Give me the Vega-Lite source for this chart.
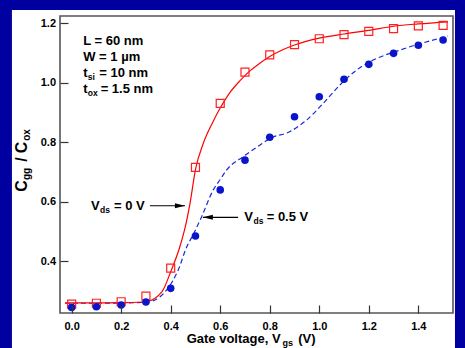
{
 "$schema": "https://vega.github.io/schema/vega-lite/v6.json",
 "width": 393, "height": 297,
 "autosize": {"type": "none"},
 "padding": {"left": 60, "top": 16, "right": 12, "bottom": 35},
 "background": "#0000A0",
 "config": {"view": {"stroke": null}, "font": "Liberation Sans"},
 "datasets": {
  "bg": [{"x": -0.2411, "x2": 1.548, "y": 0.10, "y2": 1.2447}],
  "frame": [{"x": -0.047, "x2": 1.54, "y": 0.2262, "y2": 1.2245}],
  "pts": [
   {"x": 0.0, "y": 0.256, "s": "0"}, {"x": 0.1, "y": 0.259, "s": "0"}, {"x": 0.2, "y": 0.264, "s": "0"}, {"x": 0.3, "y": 0.283, "s": "0"},
   {"x": 0.4, "y": 0.377, "s": "0"}, {"x": 0.5, "y": 0.716, "s": "0"}, {"x": 0.6, "y": 0.931, "s": "0"}, {"x": 0.7, "y": 1.036, "s": "0"},
   {"x": 0.8, "y": 1.094, "s": "0"}, {"x": 0.9, "y": 1.128, "s": "0"}, {"x": 1.0, "y": 1.148, "s": "0"}, {"x": 1.1, "y": 1.162, "s": "0"},
   {"x": 1.2, "y": 1.173, "s": "0"}, {"x": 1.3, "y": 1.182, "s": "0"}, {"x": 1.4, "y": 1.191, "s": "0"}, {"x": 1.5, "y": 1.193, "s": "0"},
   {"x": 0.0, "y": 0.245, "s": "0.5"}, {"x": 0.1, "y": 0.247, "s": "0.5"}, {"x": 0.2, "y": 0.253, "s": "0.5"}, {"x": 0.3, "y": 0.263, "s": "0.5"},
   {"x": 0.4, "y": 0.309, "s": "0.5"}, {"x": 0.5, "y": 0.485, "s": "0.5"}, {"x": 0.6, "y": 0.640, "s": "0.5"}, {"x": 0.7, "y": 0.740, "s": "0.5"},
   {"x": 0.8, "y": 0.817, "s": "0.5"}, {"x": 0.9, "y": 0.886, "s": "0.5"}, {"x": 1.0, "y": 0.953, "s": "0.5"}, {"x": 1.1, "y": 1.012, "s": "0.5"},
   {"x": 1.2, "y": 1.062, "s": "0.5"}, {"x": 1.3, "y": 1.099, "s": "0.5"}, {"x": 1.4, "y": 1.126, "s": "0.5"}, {"x": 1.5, "y": 1.144, "s": "0.5"}
  ],
  "sim": [
   {"x": -0.027, "y": 0.260, "s": "0"}, {"x": 0.1, "y": 0.260, "s": "0"}, {"x": 0.2, "y": 0.261, "s": "0"}, {"x": 0.3, "y": 0.264, "s": "0"},
   {"x": 0.365, "y": 0.298, "s": "0"}, {"x": 0.4, "y": 0.365, "s": "0"}, {"x": 0.437, "y": 0.449, "s": "0"}, {"x": 0.46, "y": 0.52, "s": "0"},
   {"x": 0.478, "y": 0.595, "s": "0"}, {"x": 0.501, "y": 0.712, "s": "0"}, {"x": 0.531, "y": 0.795, "s": "0"}, {"x": 0.569, "y": 0.866, "s": "0"},
   {"x": 0.6, "y": 0.915, "s": "0"}, {"x": 0.639, "y": 0.967, "s": "0"}, {"x": 0.68, "y": 1.007, "s": "0"}, {"x": 0.72, "y": 1.04, "s": "0"},
   {"x": 0.76, "y": 1.066, "s": "0"}, {"x": 0.8, "y": 1.088, "s": "0"}, {"x": 0.85, "y": 1.11, "s": "0"}, {"x": 0.9, "y": 1.127, "s": "0"},
   {"x": 0.95, "y": 1.14, "s": "0"}, {"x": 1.0, "y": 1.15, "s": "0"}, {"x": 1.1, "y": 1.164, "s": "0"}, {"x": 1.2, "y": 1.176, "s": "0"},
   {"x": 1.3, "y": 1.19, "s": "0"}, {"x": 1.4, "y": 1.198, "s": "0"}, {"x": 1.52, "y": 1.205, "s": "0"},
   {"x": -0.027, "y": 0.259, "s": "0.5"}, {"x": 0.1, "y": 0.259, "s": "0.5"}, {"x": 0.2, "y": 0.26, "s": "0.5"}, {"x": 0.3, "y": 0.262, "s": "0.5"},
   {"x": 0.357, "y": 0.281, "s": "0.5"}, {"x": 0.41, "y": 0.337, "s": "0.5"}, {"x": 0.43, "y": 0.37, "s": "0.5"}, {"x": 0.465, "y": 0.449, "s": "0.5"},
   {"x": 0.491, "y": 0.49, "s": "0.5"}, {"x": 0.525, "y": 0.55, "s": "0.5"}, {"x": 0.572, "y": 0.64, "s": "0.5"}, {"x": 0.6, "y": 0.675, "s": "0.5"},
   {"x": 0.626, "y": 0.707, "s": "0.5"}, {"x": 0.693, "y": 0.752, "s": "0.5"}, {"x": 0.761, "y": 0.791, "s": "0.5"}, {"x": 0.801, "y": 0.813, "s": "0.5"},
   {"x": 0.882, "y": 0.836, "s": "0.5"}, {"x": 0.949, "y": 0.875, "s": "0.5"}, {"x": 1.016, "y": 0.931, "s": "0.5"}, {"x": 1.084, "y": 0.993, "s": "0.5"},
   {"x": 1.151, "y": 1.043, "s": "0.5"}, {"x": 1.205, "y": 1.071, "s": "0.5"}, {"x": 1.326, "y": 1.110, "s": "0.5"}, {"x": 1.52, "y": 1.157, "s": "0.5"}
  ],
  "arrows": [
   {"x": 0.4576, "x2": 0.316, "y": 0.5867, "dir": "right"},
   {"x": 0.530, "x2": 0.672, "y": 0.5477, "dir": "left"}
  ],
  "txt": [
   {"x": 0.0468, "y": 1.1254, "t": "L = 60 nm", "p": "in"},
   {"x": 0.0468, "y": 1.0732, "t": "W = 1 µm", "p": "in"},
   {"x": 0.0468, "y": 1.0194, "t": "t", "p": "in"},
   {"x": 0.1115, "y": 1.0194, "t": "= 10 nm", "p": "in"},
   {"x": 0.0468, "y": 0.9646, "t": "t", "p": "in"},
   {"x": 0.1171, "y": 0.9646, "t": "= 1.5 nm", "p": "in"},
   {"x": 0.0779, "y": 0.5722, "t": "V", "p": "in"},
   {"x": 0.1708, "y": 0.5722, "t": "= 0 V", "p": "in"},
   {"x": 0.6971, "y": 0.5362, "t": "V", "p": "in"},
   {"x": 0.7876, "y": 0.5362, "t": "= 0.5 V", "p": "in"},
   {"x": 0.0650, "y": 1.0194, "t": "si", "p": "insub"},
   {"x": 0.0650, "y": 0.9646, "t": "ox", "p": "insub"},
   {"x": 0.1150, "y": 0.5722, "t": "ds", "p": "insub"},
   {"x": 0.7345, "y": 0.5362, "t": "ds", "p": "insub"},
   {"x": 0.4645, "y": 0.1260, "t": "Gate voltage, V", "p": "xt"},
   {"x": 0.9150, "y": 0.1260, "t": "(V)", "p": "xt"},
   {"x": 0.8510, "y": 0.1260, "t": "gs", "p": "xtsub"},
   {"x": -0.1785, "y": 0.6338, "t": "C", "p": "yt"},
   {"x": -0.1785, "y": 0.7346, "t": "/", "p": "yt"},
   {"x": -0.1785, "y": 0.7629, "t": "C", "p": "yt"},
   {"x": -0.1785, "y": 0.6730, "t": "gg", "p": "ytsub"},
   {"x": -0.1785, "y": 0.8050, "t": "ox", "p": "ytsub"}
  ]
 },
 "encoding": {
  "x": {"field": "x", "type": "quantitative", "scale": {"domain": [-0.047, 1.54], "nice": false, "zero": false},
   "axis": {"values": [0, 0.2, 0.4, 0.6, 0.8, 1.0, 1.2, 1.4], "format": ".1f", "title": null, "domain": false, "grid": false,
    "tickSize": -8, "tickColor": "#333333", "tickWidth": 1.2, "labelPadding": 15, "labelFontWeight": "bold", "labelFontSize": 11,
    "labelColor": "#000000", "labelFlush": false, "zindex": 1}},
  "y": {"field": "y", "type": "quantitative", "scale": {"domain": [0.2262, 1.2245], "nice": false, "zero": false},
   "axis": {"values": [0.4, 0.6, 0.8, 1.0, 1.2], "format": ".1f", "title": null, "domain": false, "grid": false,
    "tickSize": -8, "tickColor": "#333333", "tickWidth": 1.2, "labelPadding": 12.5, "labelFontWeight": "bold", "labelFontSize": 11,
    "labelColor": "#000000", "zindex": 1}}
 },
 "layer": [
  {"data": {"name": "bg"}, "mark": {"type": "rect", "fill": "#ffffff"},
   "encoding": {"x2": {"field": "x2"}, "y2": {"field": "y2"}}},
  {"data": {"name": "frame"}, "mark": {"type": "rect", "fill": null, "stroke": "#555555", "strokeWidth": 1.6},
   "encoding": {"x2": {"field": "x2"}, "y2": {"field": "y2"}}},
  {"data": {"name": "sim"}, "transform": [{"filter": "datum.s === '0.5'"}],
   "mark": {"type": "line", "color": "#1a2ad6", "strokeWidth": 1.2, "strokeDash": [5, 3], "interpolate": "monotone"}},
  {"data": {"name": "sim"}, "transform": [{"filter": "datum.s === '0'"}],
   "mark": {"type": "line", "color": "#ff0000", "strokeWidth": 1.2, "interpolate": "monotone"}},
  {"data": {"name": "pts"}, "transform": [{"filter": "datum.s === '0'"}],
   "mark": {"type": "point", "shape": "square", "filled": false, "stroke": "#ff2020", "strokeWidth": 1.2, "size": 64, "opacity": 1}},
  {"data": {"name": "pts"}, "transform": [{"filter": "datum.s === '0.5'"}],
   "mark": {"type": "point", "shape": "circle", "filled": true, "fill": "#0a14cc", "size": 58, "opacity": 1}},
  {"data": {"name": "arrows"}, "mark": {"type": "rule", "color": "#000000", "strokeWidth": 1.2},
   "encoding": {"x2": {"field": "x2"}}},
  {"data": {"name": "arrows"}, "mark": {"type": "point", "filled": true, "fill": "#000000", "size": 100, "opacity": 1},
   "encoding": {"shape": {"field": "dir", "type": "nominal", "legend": null,
    "scale": {"domain": ["right", "left"], "range": ["M0,0L-2,-0.5L-2,0.5Z", "M0,0L2,-0.5L2,0.5Z"]}}}},
  {"data": {"name": "txt"}, "transform": [{"filter": "datum.p === 'in'"}],
   "mark": {"type": "text", "align": "left", "baseline": "alphabetic", "fontSize": 13, "fontWeight": "bold", "color": "#000000"},
   "encoding": {"text": {"field": "t"}}},
  {"data": {"name": "txt"}, "transform": [{"filter": "datum.p === 'insub'"}],
   "mark": {"type": "text", "align": "left", "baseline": "alphabetic", "fontSize": 8.5, "fontWeight": "bold", "color": "#000000", "dy": 3},
   "encoding": {"text": {"field": "t"}}},
  {"data": {"name": "txt"}, "transform": [{"filter": "datum.p === 'xt'"}],
   "mark": {"type": "text", "align": "left", "baseline": "alphabetic", "fontSize": 13, "fontWeight": "bold", "color": "#000000"},
   "encoding": {"text": {"field": "t"}}},
  {"data": {"name": "txt"}, "transform": [{"filter": "datum.p === 'xtsub'"}],
   "mark": {"type": "text", "align": "left", "baseline": "alphabetic", "fontSize": 9, "fontWeight": "bold", "color": "#000000", "dy": 3},
   "encoding": {"text": {"field": "t"}}},
  {"data": {"name": "txt"}, "transform": [{"filter": "datum.p === 'yt'"}],
   "mark": {"type": "text", "align": "left", "baseline": "alphabetic", "angle": 270, "fontSize": 16, "fontWeight": "bold", "color": "#000000"},
   "encoding": {"text": {"field": "t"}}},
  {"data": {"name": "txt"}, "transform": [{"filter": "datum.p === 'ytsub'"}],
   "mark": {"type": "text", "align": "left", "baseline": "alphabetic", "angle": 270, "fontSize": 10, "fontWeight": "bold", "color": "#000000", "dy": 3},
   "encoding": {"text": {"field": "t"}}}
 ]
}
